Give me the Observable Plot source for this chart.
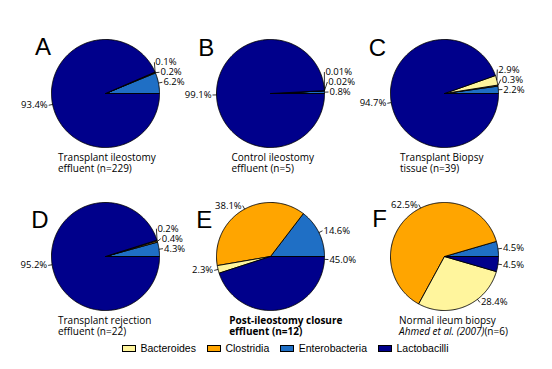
<!DOCTYPE html>
<html><head><meta charset="utf-8">
<script src="https://cdn.jsdelivr.net/npm/d3@7"></script>
<script src="https://cdn.jsdelivr.net/npm/@observablehq/plot@0.6"></script>
<style>
body{margin:0;background:#fff;}
#chart{position:relative;width:552px;height:369px;background:#fff;overflow:hidden;}
.panel{position:absolute;width:175px;height:163px;}
.panel svg{position:absolute;left:0;top:0;overflow:visible;}
.letter{position:absolute;font-family:"Liberation Sans",Arial,sans-serif;font-size:24px;line-height:24px;color:#000;}
.caption{position:absolute;font-family:"Open Sans",sans-serif;font-size:10px;line-height:11px;color:#000;white-space:nowrap;}
.legend{position:absolute;left:122px;top:342px;display:flex;gap:11px;font-family:"Liberation Sans",Arial,sans-serif;font-size:10.5px;align-items:center;color:#000;}
.item{display:flex;align-items:center;gap:4.5px;}
.sw{width:14px;height:7px;border:1px solid #000;box-sizing:border-box;}
</style></head><body><div id="chart"></div>
<script>
// ---- data ----
const categories = ["Bacteroides", "Clostridia", "Enterobacteria", "Lactobacilli"];
const panelLetters = ["A", "B", "C", "D", "E", "F"];
const captionLine1 = ["Transplant ileostomy", "Control ileostomy", "Transplant Biopsy", "Transplant rejection", "Post-ileostomy closure", "Normal ileum biopsy"];
const captionItalic = ["", "", "", "", "", "Ahmed et al. (2007)"];
const captionLine2 = ["effluent (n=229)", "effluent (n=5)", "tissue (n=39)", "effluent (n=22)", "effluent (n=12)", "(n=6)"];
const bacteroides    = [0.1, 0.01, 2.9, 0.2, 2.3, 28.4];
const clostridia     = [0.2, 0.02, 0.3, 0.4, 38.1, 62.5];
const enterobacteria = [6.2, 0.8, 2.2, 4.3, 14.6, 4.5];
const lactobacilli   = [93.4, 99.1, 94.7, 95.2, 45.0, 4.5];

// ---- style / layout ----
const colors = ["#fff59d", "#ffa500", "#1f6fc5", "#00008b"];
const captionBold = [false, false, false, false, true, false];
const layout = [
  {left: 16.5, top: 31, letterX: 18.5, letterTop: 3.9, capX: 41.5},
  {left: 181.5, top: 31, letterX: 16.7, letterTop: 4.9, capX: 50},
  {left: 355.5, top: 31, letterX: 13.3, letterTop: 4.9, capX: 44.5},
  {left: 16.5, top: 194, letterX: 14.7, letterTop: 13.9, capX: 41.5},
  {left: 181.5, top: 194, letterX: 14.7, letterTop: 13.9, capX: 47.7},
  {left: 355.5, top: 194, letterX: 16.7, letterTop: 12.7, capX: 43.6}
];
const R = 54, CX = 88, CY = 62, RL = 58, W = 175, H = 163, CAP_TOP = 121, STACK = 10;
const sliceOrder = ["Enterobacteria", "Clostridia", "Bacteroides", "Lactobacilli"];
const valuesByCat = {Bacteroides: bacteroides, Clostridia: clostridia, Enterobacteria: enterobacteria, Lactobacilli: lactobacilli};
const rad = Math.PI / 180;
const fmt = v => (v < 0.1 ? v.toFixed(2) : v.toFixed(1)) + "%";

// approximate pixel box of a label placed at angle a (degrees)
function labelBox(a, text) {
  const px = CX + RL * Math.cos(a * rad), py = CY - RL * Math.sin(a * rad);
  const w = text.length * 5.3;
  const right = Math.cos(a * rad) >= 0;
  return {x0: right ? px + 1 : px - 1 - w, x1: right ? px + 1 + w : px - 1, y0: py - 5, y1: py + 5};
}
const overlaps = (b, c) => b.x0 < c.x1 && b.x1 > c.x0 && b.y0 < c.y1 && b.y1 > c.y0;

const chart = document.getElementById("chart");

panelLetters.forEach((letter, i) => {
  const L = layout[i];
  const letterBox = {x0: L.letterX - 2, x1: L.letterX + 18, y0: L.letterTop + 1, y1: L.letterTop + 21};
  const capBox = {x0: L.capX, x1: L.capX + 120, y0: CAP_TOP - 8, y1: CAP_TOP + 24};
  const vals = sliceOrder.map(c => valuesByCat[c][i]);
  const total = d3.sum(vals);
  let acc = 0;
  const pts = [], labels = [], leaders = [];
  let prevSmall = false, prevY = null;
  const rl = RL / R;
  sliceOrder.forEach((c, j) => {
    const v = vals[j];
    const text = fmt(v);
    const a0 = acc / total * 360, a1 = (acc + v) / total * 360;
    acc += v;
    const n = Math.max(2, Math.ceil(a1 - a0) + 1);
    pts.push({key: c, cat: c, x: 0, y: 0});
    for (let k = 0; k < n; k++) {
      const a = (a0 + (a1 - a0) * k / (n - 1)) * rad;
      pts.push({key: c, cat: c, x: Math.cos(a), y: Math.sin(a)});
    }
    pts.push({key: c, cat: c, x: 0, y: 0});
    const mid = (a0 + a1) / 2;
    const small = v / total < 0.07;
    let lx, ly;
    if (small && prevSmall) {
      ly = prevY + STACK / R;
      lx = Math.sqrt(rl * rl - ly * ly);
      leaders.push({x1: Math.cos(mid * rad), y1: Math.sin(mid * rad), x2: lx, y2: ly});
    } else {
      let la = mid;
      // keep clear of the caption below the pie
      if (overlaps(labelBox(la, text), capBox)) {
        if (a1 >= 345) la = a1 - 3;
        else { while (la < a1 - 2 && overlaps(labelBox(la, text), capBox)) la += 0.5; }
      }
      // keep clear of the panel letter
      while (la > a0 + 2 && overlaps(labelBox(la, text), letterBox)) la -= 0.5;
      lx = rl * Math.cos(la * rad);
      ly = rl * Math.sin(la * rad);
      leaders.push({x1: Math.cos(la * rad), y1: Math.sin(la * rad), x2: lx, y2: ly});
    }
    labels.push({x: lx, y: ly, text, side: lx >= 0 ? "right" : "left"});
    prevSmall = small; prevY = ly;
  });

  const plot = Plot.plot({
    width: W, height: H, margin: 0,
    style: {background: "transparent", overflow: "visible"},
    x: {domain: [-1, 1], range: [CX - R, CX + R], axis: null},
    y: {domain: [-1, 1], range: [CY + R, CY - R], axis: null},
    color: {domain: categories, range: colors},
    marks: [
      Plot.line(pts, {x: "x", y: "y", z: "key", fill: "cat", stroke: "#000", strokeWidth: 0.9, strokeLinejoin: "round"}),
      Plot.link(leaders, {x1: "x1", y1: "y1", x2: "x2", y2: "y2", stroke: "#000", strokeWidth: 0.8}),
      Plot.text(labels.filter(d => d.side === "right"), {x: "x", y: "y", text: "text", textAnchor: "start", dx: 1, fontSize: 9.5, fontFamily: "Open Sans", fill: "#000"}),
      Plot.text(labels.filter(d => d.side === "left"), {x: "x", y: "y", text: "text", textAnchor: "end", dx: -1, fontSize: 9.5, fontFamily: "Open Sans", fill: "#000"})
    ]
  });

  const panel = document.createElement("div");
  panel.className = "panel";
  panel.style.left = L.left + "px";
  panel.style.top = L.top + "px";
  panel.appendChild(plot);

  const let_ = document.createElement("div");
  let_.className = "letter";
  let_.textContent = letter;
  let_.style.left = L.letterX + "px";
  let_.style.top = L.letterTop + "px";
  panel.appendChild(let_);

  const cap = document.createElement("div");
  cap.className = "caption";
  cap.style.left = L.capX + "px";
  cap.style.top = (CAP_TOP - 0.4) + "px";
  if (captionBold[i]) cap.style.fontWeight = "bold";
  const l1 = document.createElement("div");
  l1.textContent = captionLine1[i];
  const l2 = document.createElement("div");
  if (captionItalic[i]) {
    const it = document.createElement("i");
    it.textContent = captionItalic[i];
    l2.appendChild(it);
  }
  l2.appendChild(document.createTextNode(captionLine2[i]));
  cap.appendChild(l1); cap.appendChild(l2);
  panel.appendChild(cap);

  chart.appendChild(panel);
});

// legend
const legend = document.createElement("div");
legend.className = "legend";
categories.forEach((c, k) => {
  const item = document.createElement("div");
  item.className = "item";
  const sw = document.createElement("div");
  sw.className = "sw";
  sw.style.background = colors[k];
  const t = document.createElement("span");
  t.textContent = c;
  item.appendChild(sw); item.appendChild(t);
  legend.appendChild(item);
});
chart.appendChild(legend);
</script>
</body></html>
